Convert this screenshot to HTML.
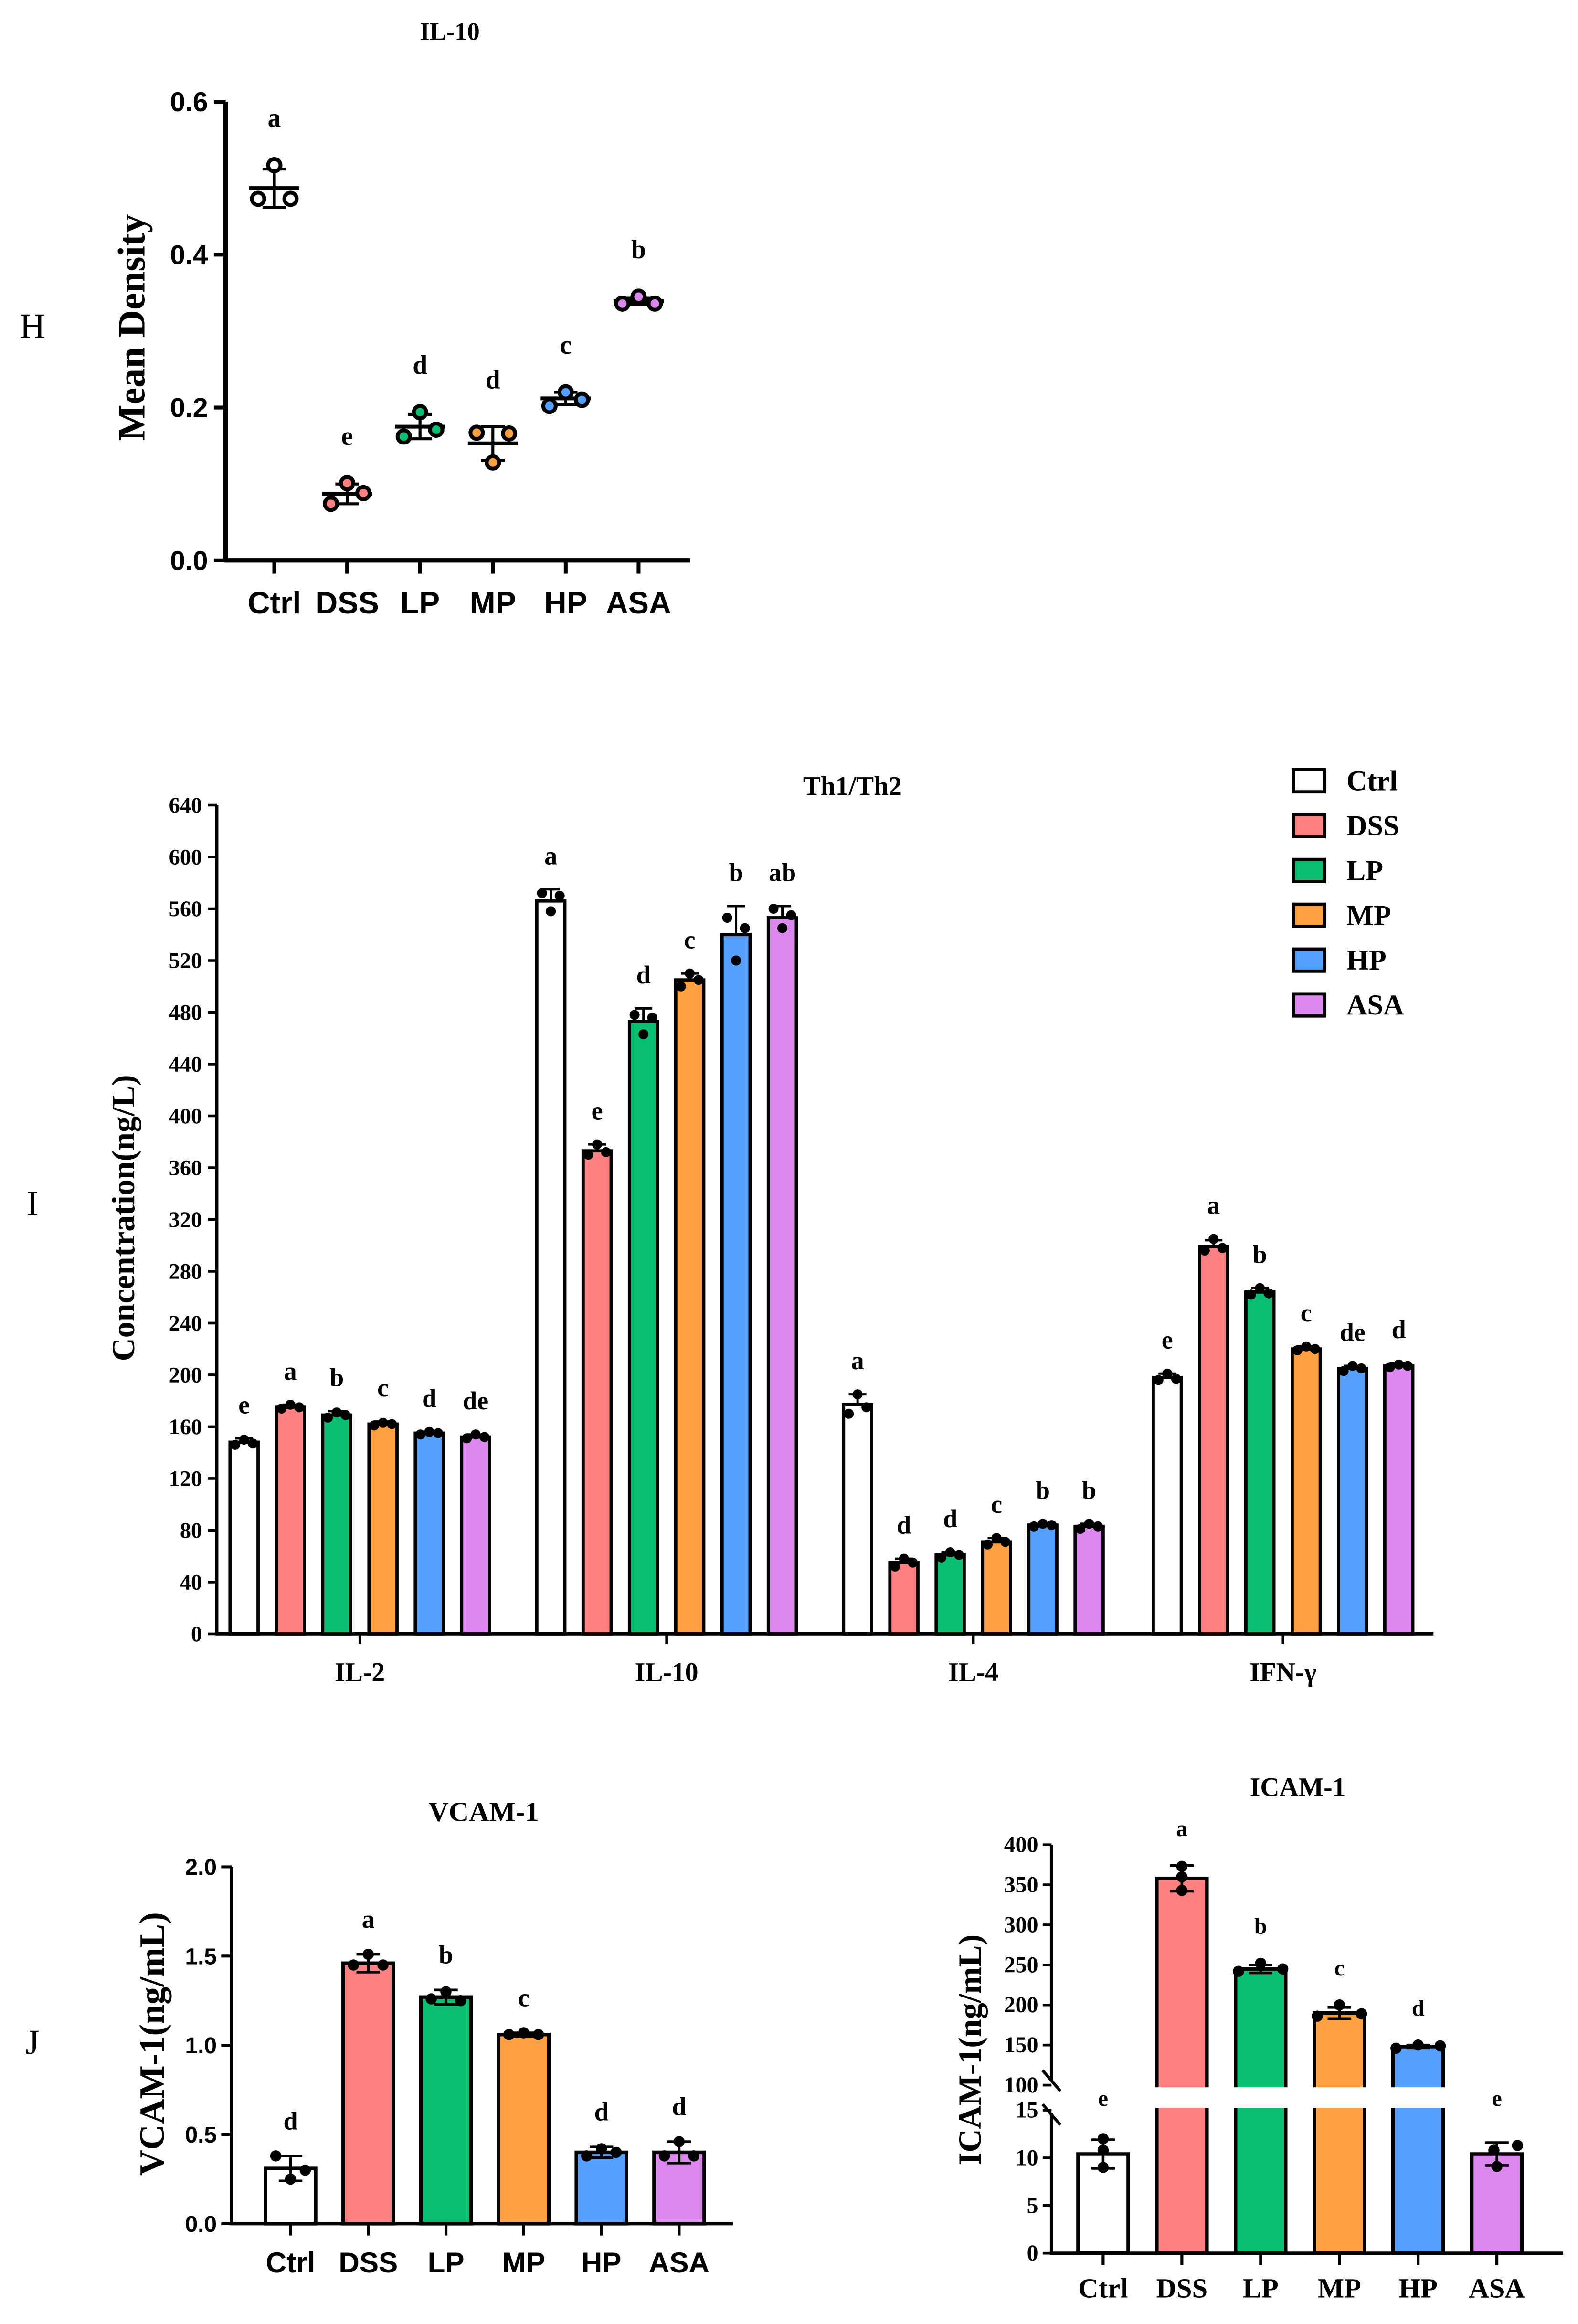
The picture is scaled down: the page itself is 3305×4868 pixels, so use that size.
<!DOCTYPE html>
<html><head><meta charset="utf-8"><style>
html,body{margin:0;padding:0;background:#fff;}
svg{display:block;}
.serif{font-family:"Liberation Serif",serif;font-weight:bold;}
.sans{font-family:"Liberation Sans",sans-serif;font-weight:bold;}
</style></head><body>
<svg id="fig" xmlns="http://www.w3.org/2000/svg" width="3305" height="4868" viewBox="0 0 1070 1576">
<rect x="0" y="0" width="1070" height="1576" fill="#fff"/>
<g id="H"></g>
<g id="I"></g>
<g id="J1"></g>
<g id="J2"></g>
</svg>
<script>
// ---------- data ----------
const groups = ["Ctrl","DSS","LP","MP","HP","ASA"];
const colors = ["#FFFFFF","#FF8080","#08BF72","#FFA040","#55A0FF","#DD88F0"];
// Panel H
const hMeans = [0.487,0.087,0.175,0.153,0.212,0.339];
const hSD = [0.025,0.013,0.016,0.022,0.008,0.004];
const hPoints = [[0.473,0.517,0.473],[0.074,0.101,0.088],[0.162,0.194,0.171],[0.167,0.128,0.166],[0.202,0.220,0.210],[0.336,0.345,0.336]];
const hLetters = ["a","e","d","d","c","b"];
const hTicks = [0.0,0.2,0.4,0.6];
// Panel I
const iCats = ["IL-2","IL-10","IL-4","IFN-γ"];
const iMeans = [[148,175,169,162,155,152],[566,373,473,505,540,553],[177,55,61,71,84,83],[198,299,264,220,205,207]];
const iSD = [[3,2,3,2,1,2],[9,5,10,5,22,9],[8,3,2,3,1,2],[3,5,3,2,2,2]];
const iPoints = [
 [[146,150,147],[174,177,175],[167,171,169],[161,163,162],[154,156,155],[151,154,152]],
 [[572,558,570],[370,378,372],[478,463,476],[500,510,505],[553,520,545],[560,545,555]],
 [[170,185,175],[52,58,55],[59,63,61],[69,74,71],[83,85,84],[81,85,83]],
 [[196,201,197],[296,305,298],[262,267,263],[219,222,220],[203,207,205],[206,208,207]]
];
const iLetters = [["e","a","b","c","d","de"],["a","e","d","c","b","ab"],["a","d","d","c","b","b"],["e","a","b","c","de","d"]];
const iTicks = [0,40,80,120,160,200,240,280,320,360,400,440,480,520,560,600,640];
// VCAM
const vMeans = [0.31,1.46,1.27,1.06,0.40,0.40];
const vSD = [0.07,0.05,0.04,0.01,0.03,0.06];
const vPoints = [[0.38,0.25,0.30],[1.45,1.51,1.45],[1.26,1.30,1.25],[1.06,1.07,1.06],[0.38,0.42,0.40],[0.38,0.46,0.38]];
const vLetters = ["d","a","b","c","d","d"];
const vTicks = [0.0,0.5,1.0,1.5,2.0];
// ICAM
const cMeans = [10.4,358,245,190,148,10.4];
const cSD = [1.5,16,5,7,2,1.2];
const cPoints = [[12,10.8,9],[373,360,343],[242,252,245],[186,200,189],[146,150,149],[9.1,10.8,11.3]];
const cLetters = ["e","a","b","c","d","e"];
const cTicksLow = [0,5,10,15];
const cTicksHigh = [100,150,200,250,300,350,400];

// ---------- helpers ----------
const NS="http://www.w3.org/2000/svg";
function mk(parent,tag,attrs,text){const e=document.createElementNS(NS,tag);for(const k in attrs)e.setAttribute(k,attrs[k]);if(text!==undefined)e.textContent=text;parent.appendChild(e);return e;}
function line(p,x1,y1,x2,y2,w){return mk(p,"line",{x1,y1,x2,y2,stroke:"#000","stroke-width":w||2});}

// ---------- Panel H ----------
(function(){
const g=document.getElementById("H");
const X0=153,Y0=380,Ytop=69,x1=468;
const y=v=>Y0-(v/0.6)*(Y0-Ytop);
const xs=i=>186+i*49.4;
let t=mk(g,"text",{x:305,y:27,"text-anchor":"middle","font-size":17,class:"serif"},"IL-10");

t=mk(g,"text",{x:22,y:229,"text-anchor":"middle","font-size":24,"font-family":"Liberation Serif,serif"},"H");

t=mk(g,"text",{x:0,y:0,"text-anchor":"middle","font-size":26,class:"serif",transform:"translate(98,222) rotate(-90)"},"Mean Density");

line(g,X0,Ytop,X0,Y0+1,3);line(g,X0-1,Y0,x1,Y0,3);
hTicks.forEach(v=>{line(g,X0-8,y(v),X0,y(v),2.6);
 const e=mk(g,"text",{x:X0-12,y:y(v)+6.5,"text-anchor":"end","font-size":18.5,class:"sans"},v.toFixed(1));
 });
groups.forEach((n,i)=>{const cx=xs(i);
 line(g,cx,Y0,cx,Y0+9,2.6);
 const e=mk(g,"text",{x:cx,y:416,"text-anchor":"middle","font-size":21,class:"sans"},n);
 
 line(g,cx,y(hMeans[i]+hSD[i]),cx,y(hMeans[i]-hSD[i]),2);
 line(g,cx-8,y(hMeans[i]+hSD[i]),cx+8,y(hMeans[i]+hSD[i]),2);
 line(g,cx-8,y(hMeans[i]-hSD[i]),cx+8,y(hMeans[i]-hSD[i]),2);
 line(g,cx-17,y(hMeans[i]),cx+17,y(hMeans[i]),2.6);
 const offs=[-11,0,11];
 hPoints[i].forEach((v,k)=>{const c=mk(g,"circle",{cx:cx+offs[k],cy:y(v),r:4.2,fill:colors[i],stroke:"#000","stroke-width":2.6});
  });
 const maxv=Math.max(hMeans[i]+hSD[i],...hPoints[i]);
 const l=mk(g,"text",{x:cx,y:y(maxv)-26,"text-anchor":"middle","font-size":18,class:"serif"},hLetters[i]);
 
});
})();

// ---------- Panel I ----------
(function(){
const g=document.getElementById("I");
const X0=147,Y0=1108,Ytop=546,x1=972;
const y=v=>Y0-(v/640)*(Y0-Ytop);
const gc=[244,452,660,870];
const bw=19,sp=31.4;
let t=mk(g,"text",{x:578,y:539,"text-anchor":"middle","font-size":18,class:"serif"},"Th1/Th2");

t=mk(g,"text",{x:22,y:824,"text-anchor":"middle","font-size":24,"font-family":"Liberation Serif,serif"},"I");

t=mk(g,"text",{x:0,y:0,"text-anchor":"middle","font-size":22,class:"serif",transform:"translate(91,826) rotate(-90)"},"Concentration(ng/L)");

line(g,X0,Ytop,X0,Y0+1,2.2);line(g,X0-1,Y0,x1,Y0,2.2);
iTicks.forEach(v=>{line(g,X0-6,y(v),X0,y(v),1.8);
 const e=mk(g,"text",{x:X0-10,y:y(v)+5,"text-anchor":"end","font-size":15,class:"serif"},String(v));
 });
iCats.forEach((c,gi)=>{
 line(g,gc[gi],Y0,gc[gi],Y0+7,1.8);
 const e=mk(g,"text",{x:gc[gi],y:1140,"text-anchor":"middle","font-size":18,class:"serif"},c);
 
 groups.forEach((n,i)=>{
  const cx=gc[gi]+(i-2.5)*sp, v=iMeans[gi][i], sd=iSD[gi][i];
  const r=mk(g,"rect",{x:cx-bw/2,y:y(v),width:bw,height:Y0-y(v),fill:colors[i],stroke:"#000","stroke-width":2.2});
  
  line(g,cx,y(v+sd),cx,y(v),1.6);line(g,cx-6,y(v+sd),cx+6,y(v+sd),1.6);
  const offs=[-6,0,6];
  iPoints[gi][i].forEach((p,k)=>{const d=mk(g,"circle",{cx:cx+offs[k],cy:y(p),r:3.4,fill:"#000"});
   });
  const top=Math.max(v+sd,...iPoints[gi][i]);
  const l=mk(g,"text",{x:cx,y:y(top)-17,"text-anchor":"middle","font-size":17.5,class:"serif"},iLetters[gi][i]);
  
 });
});
groups.forEach((n,i)=>{const ly=529+i*30.4;
 const b=mk(g,"rect",{x:877,y:ly-7,width:21,height:15,fill:colors[i],stroke:"#000","stroke-width":2.2});
 
 const e=mk(g,"text",{x:913,y:ly+7,"font-size":19.5,class:"serif"},n);
 });
})();

// ---------- VCAM ----------
(function(){
const g=document.getElementById("J1");
const X0=157,Y0=1508,Ytop=1266,x1=497;
const y=v=>Y0-(v/2)*(Y0-Ytop);
const xs=i=>197+i*52.7;const bw=34;
let t=mk(g,"text",{x:328,y:1235,"text-anchor":"middle","font-size":19,class:"serif"},"VCAM-1");

t=mk(g,"text",{x:22,y:1393,"text-anchor":"middle","font-size":24,"font-family":"Liberation Serif,serif"},"J");

t=mk(g,"text",{x:0,y:0,"text-anchor":"middle","font-size":24,class:"serif",transform:"translate(111,1386) rotate(-90)"},"VCAM-1(ng/mL)");

line(g,X0,Ytop,X0,Y0+1,2.2);line(g,X0-1,Y0,x1,Y0,2.2);
vTicks.forEach(v=>{line(g,X0-7,y(v),X0,y(v),2);
 const e=mk(g,"text",{x:X0-10,y:y(v)+5.5,"text-anchor":"end","font-size":15.5,class:"sans"},v.toFixed(1));
 });
groups.forEach((n,i)=>{const cx=xs(i),v=vMeans[i],sd=vSD[i];
 line(g,cx,Y0,cx,Y0+8,2);
 const e=mk(g,"text",{x:cx,y:1541,"text-anchor":"middle","font-size":19.5,class:"sans"},n);
 
 const r=mk(g,"rect",{x:cx-bw/2,y:y(v),width:bw,height:Y0-y(v),fill:colors[i],stroke:"#000","stroke-width":2.4});
 
 line(g,cx,y(v+sd),cx,y(v-sd),1.8);line(g,cx-8,y(v+sd),cx+8,y(v+sd),1.8);line(g,cx-8,y(v-sd),cx+8,y(v-sd),1.8);
 const offs=[-10,0,10];
 vPoints[i].forEach((p,k)=>{const d=mk(g,"circle",{cx:cx+offs[k],cy:y(p),r:3.8,fill:"#000"});
  });
 const top=Math.max(v+sd,...vPoints[i]);
 const l=mk(g,"text",{x:cx,y:y(top)-18,"text-anchor":"middle","font-size":17.5,class:"serif"},vLetters[i]);
 
});
})();

// ---------- ICAM ----------
(function(){
const g=document.getElementById("J2");
const X0=713,Y0=1528,x1=1060,breakLo=1431,breakHi=1414,Ytop=1251;
const y=v=> v<=15 ? Y0-(v/15)*(Y0-breakLo) : (v<100 ? breakHi+ (100-v)/85*(breakLo-breakHi) : breakHi-(v-100)/300*(breakHi-Ytop));
const xs=i=>748+i*53.4;const bw=34;
let t=mk(g,"text",{x:880,y:1218,"text-anchor":"middle","font-size":18,class:"serif"},"ICAM-1");

t=mk(g,"text",{x:0,y:0,"text-anchor":"middle","font-size":22,class:"serif",transform:"translate(665,1390) rotate(-90)"},"ICAM-1(ng/mL)");

const letters=[];
groups.forEach((n,i)=>{const cx=xs(i),v=cMeans[i],sd=cSD[i];
 line(g,cx,Y0,cx,Y0+8,2);
 const e=mk(g,"text",{x:cx,y:1558,"text-anchor":"middle","font-size":19,class:"serif"},n);
 
 const r=mk(g,"rect",{x:cx-bw/2,y:y(v),width:bw,height:Y0-y(v),fill:colors[i],stroke:"#000","stroke-width":2.4});
 
 line(g,cx,y(v+sd),cx,y(v-sd),1.8);line(g,cx-8,y(v+sd),cx+8,y(v+sd),1.8);line(g,cx-8,y(v-sd),cx+8,y(v-sd),1.8);
 const offx=[[0,0,0],[0,0,0],[-15,0,15],[-15,0,15],[-15,0,15],[0,-2,14]][i];
 cPoints[i].forEach((p,k)=>{const d=mk(g,"circle",{cx:cx+offx[k],cy:y(p),r:3.8,fill:"#000"});
  });
 const top=Math.max(v+sd,...cPoints[i]);
 letters.push([cx,(v<=15?1428:y(top)-20),cLetters[i]]);
});
// break band
const band=mk(g,"rect",{x:718,y:breakHi+1.5,width:345,height:breakLo-breakHi-3,fill:"#fff"});

letters.forEach(a=>{const l=mk(g,"text",{x:a[0],y:a[1],"text-anchor":"middle","font-size":15.5,class:"serif"},a[2]);
 });
line(g,X0,Ytop,X0,breakHi-3,2.2);line(g,X0,breakLo+2,X0,Y0+1,2.2);line(g,X0-1,Y0,x1,Y0,2.2);
line(g,X0-6,breakHi-10,X0+6,breakHi+4,2);line(g,X0-6,breakLo-4,X0+6,breakLo+10,2);
cTicksLow.concat(cTicksHigh).forEach(v=>{line(g,X0-6,y(v),X0,y(v),1.8);
 const e=mk(g,"text",{x:X0-9,y:y(v)+5,"text-anchor":"end","font-size":15.5,class:"serif"},String(v));
 });
})();
</script>
</body></html>
